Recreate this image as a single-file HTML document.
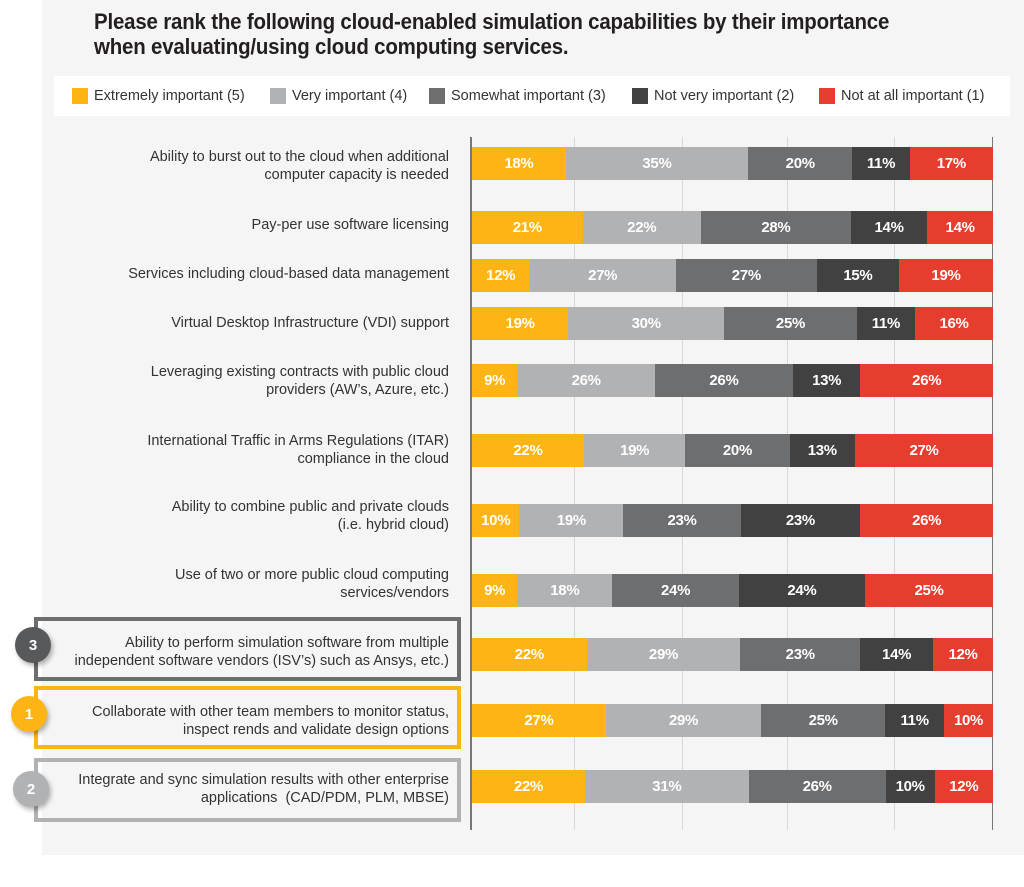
<!DOCTYPE html>
<html><head><meta charset="utf-8"><style>
*{margin:0;padding:0;box-sizing:border-box}
body{width:1024px;height:887px;background:#fff;position:relative;font-family:"Liberation Sans",sans-serif;overflow:hidden}
.panel{position:absolute;left:42px;top:0;width:982px;height:855px;background:#f5f5f5}
.title{position:absolute;left:94px;top:9px;font-family:"Liberation Sans Narrow","Liberation Sans",sans-serif;font-weight:bold;font-size:22px;line-height:25px;color:#231f20;letter-spacing:-0.2px;transform:scaleX(0.93);transform-origin:left top;white-space:nowrap}
.legend{position:absolute;left:54px;top:76px;width:956px;height:40px;background:#fff;font-size:14.5px;color:#333}
.li{position:absolute;top:12px;display:flex;align-items:center;white-space:nowrap}
.li i{display:inline-block;width:16px;height:16px;margin-right:6px}
.axis{position:absolute;left:470px;top:137px;width:2px;height:693px;background:#777}
.raxis{position:absolute;left:992px;top:137px;width:1px;height:693px;background:#777}
.grid{position:absolute;top:137px;width:1px;height:693px;background:#d8d8d8}
.bar{position:absolute;left:472px;width:521px;height:33px;display:flex}
.bar div{flex-basis:0;color:#fff;font-weight:bold;font-size:15px;display:flex;align-items:center;justify-content:center;font-family:"Liberation Sans Narrow","Liberation Sans",sans-serif;letter-spacing:-0.3px}
.y{background:#fdb515}.l{background:#b1b2b4}.m{background:#6d6e70}.d{background:#414142}.r{background:#e63d2f}
.lab{position:absolute;right:575px;text-align:right;font-size:14.5px;line-height:18px;color:#333;white-space:nowrap}
.box{position:absolute;left:34px;width:427px;border:4px solid}
.c{position:absolute;width:36px;height:36px;border-radius:50%;color:#fff;font-weight:bold;font-size:15px;display:flex;align-items:center;justify-content:center;box-shadow:2px 3px 5px rgba(0,0,0,.3)}
</style></head><body>
<div class="panel"></div>
<div class="title">Please rank the following cloud-enabled simulation capabilities by their importance<br>when evaluating/using cloud computing services.</div>
<div class="legend">
<div class="li" style="left:18px"><i class="y"></i>Extremely important (5)</div>
<div class="li" style="left:216px"><i class="l"></i>Very important (4)</div>
<div class="li" style="left:375px"><i class="m"></i>Somewhat important (3)</div>
<div class="li" style="left:578px"><i class="d"></i>Not very important (2)</div>
<div class="li" style="left:765px"><i class="r"></i>Not at all important (1)</div>
</div>
<div class="grid" style="left:574px"></div><div class="grid" style="left:682px"></div><div class="grid" style="left:787px"></div><div class="grid" style="left:894px"></div>
<div class="axis"></div><div class="raxis"></div>

<div class="box" style="top:617px;height:64px;border-color:#6d6e70"></div>
<div class="box" style="top:686px;height:63px;border-color:#fdb515"></div>
<div class="box" style="top:758px;height:64px;border-color:#b1b2b4"></div>
<div class="c" style="left:15px;top:627px;background:#58595b">3</div>
<div class="c" style="left:11px;top:696px;background:#fdb515">1</div>
<div class="c" style="left:13px;top:771px;background:#b1b2b4">2</div>

<div class="lab" style="top:148px">Ability to burst out to the cloud when additional<br>computer capacity is needed</div>
<div class="lab" style="top:216px">Pay-per use software licensing</div>
<div class="lab" style="top:265px">Services including cloud-based data management</div>
<div class="lab" style="top:314px">Virtual Desktop Infrastructure (VDI) support</div>
<div class="lab" style="top:363px">Leveraging existing contracts with public cloud<br>providers (AW’s, Azure, etc.)</div>
<div class="lab" style="top:432px">International Traffic in Arms Regulations (ITAR)<br>compliance in the cloud</div>
<div class="lab" style="top:498px">Ability to combine public and private clouds<br>(i.e. hybrid cloud)</div>
<div class="lab" style="top:566px">Use of two or more public cloud computing<br>services/vendors</div>
<div class="lab" style="top:634px">Ability to perform simulation software from multiple<br>independent software vendors (ISV’s) such as Ansys, etc.)</div>
<div class="lab" style="top:703px">Collaborate with other team members to monitor status,<br>inspect rends and validate design options</div>
<div class="lab" style="top:771px">Integrate and sync simulation results with other enterprise<br>applications&nbsp; (CAD/PDM, PLM, MBSE)</div>

<div class="bar" style="top:147px"><div class="y" style="flex-grow:18">18%</div><div class="l" style="flex-grow:35">35%</div><div class="m" style="flex-grow:20">20%</div><div class="d" style="flex-grow:11">11%</div><div class="r" style="flex-grow:16">17%</div></div>
<div class="bar" style="top:211px"><div class="y" style="flex-grow:21">21%</div><div class="l" style="flex-grow:22.5">22%</div><div class="m" style="flex-grow:28.5">28%</div><div class="d" style="flex-grow:14.5">14%</div><div class="r" style="flex-grow:12.5">14%</div></div>
<div class="bar" style="top:259px"><div class="y" style="flex-grow:11">12%</div><div class="l" style="flex-grow:28">27%</div><div class="m" style="flex-grow:27">27%</div><div class="d" style="flex-grow:15.7">15%</div><div class="r" style="flex-grow:18">19%</div></div>
<div class="bar" style="top:307px"><div class="y" style="flex-grow:18.5">19%</div><div class="l" style="flex-grow:30">30%</div><div class="m" style="flex-grow:25.5">25%</div><div class="d" style="flex-grow:11.2">11%</div><div class="r" style="flex-grow:15">16%</div></div>
<div class="bar" style="top:364px"><div class="y" style="flex-grow:8.7">9%</div><div class="l" style="flex-grow:26.5">26%</div><div class="m" style="flex-grow:26.5">26%</div><div class="d" style="flex-grow:13">13%</div><div class="r" style="flex-grow:25.5">26%</div></div>
<div class="bar" style="top:434px"><div class="y" style="flex-grow:21.5">22%</div><div class="l" style="flex-grow:19.5">19%</div><div class="m" style="flex-grow:20">20%</div><div class="d" style="flex-grow:12.6">13%</div><div class="r" style="flex-grow:26.5">27%</div></div>
<div class="bar" style="top:504px"><div class="y" style="flex-grow:9.1">10%</div><div class="l" style="flex-grow:20">19%</div><div class="m" style="flex-grow:22.5">23%</div><div class="d" style="flex-grow:23">23%</div><div class="r" style="flex-grow:25.5">26%</div></div>
<div class="bar" style="top:574px"><div class="y" style="flex-grow:8.7">9%</div><div class="l" style="flex-grow:18.3">18%</div><div class="m" style="flex-grow:24.3">24%</div><div class="d" style="flex-grow:24.3">24%</div><div class="r" style="flex-grow:24.6">25%</div></div>
<div class="bar" style="top:638px"><div class="y" style="flex-grow:22">22%</div><div class="l" style="flex-grow:29.5">29%</div><div class="m" style="flex-grow:23">23%</div><div class="d" style="flex-grow:14">14%</div><div class="r" style="flex-grow:11.5">12%</div></div>
<div class="bar" style="top:704px"><div class="y" style="flex-grow:25.7">27%</div><div class="l" style="flex-grow:29.8">29%</div><div class="m" style="flex-grow:23.8">25%</div><div class="d" style="flex-grow:11.3">11%</div><div class="r" style="flex-grow:9.4">10%</div></div>
<div class="bar" style="top:770px"><div class="y" style="flex-grow:21.7">22%</div><div class="l" style="flex-grow:31.4">31%</div><div class="m" style="flex-grow:26.3">26%</div><div class="d" style="flex-grow:9.4">10%</div><div class="r" style="flex-grow:11.2">12%</div></div>
</body></html>
